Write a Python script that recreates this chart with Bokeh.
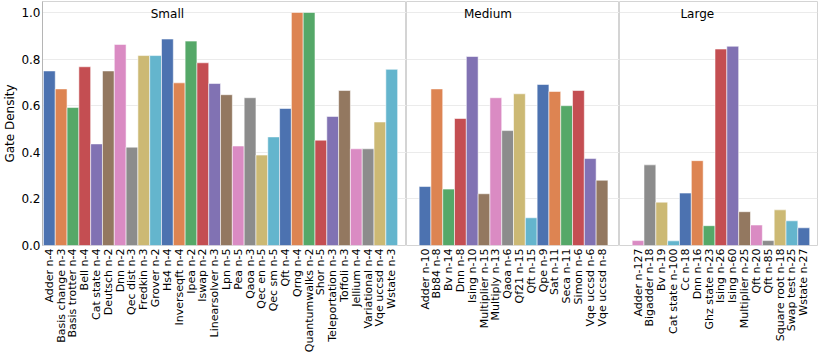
import math
from bokeh.plotting import figure
from bokeh.layouts import row
from bokeh.models import Range1d, FixedTicker, PrintfTickFormatter, ColumnDataSource
from bokeh.embed import file_html
from bokeh.resources import INLINE
from bokeh.core.properties import value

# ---------------- data ----------------
group_titles = ["Small", "Medium", "Large"]

small_labels = ["Adder n-4", "Basis change n-3", "Basis trotter n-4", "Bell n-4", "Cat state n-4",
                "Deutsch n-2", "Dnn n-2", "Qec dist n-3", "Fredkin n-3", "Grover n-2",
                "Hs4 n-4", "Inverseqft n-4", "Ipea n-2", "Iswap n-2", "Linearsolver n-3",
                "Lpn n-5", "Pea n-5", "Qaoa n-3", "Qec en n-5", "Qec sm n-5",
                "Qft n-4", "Qrng n-4", "Quantumwalks n-2", "Shor n-5", "Teleportation n-3",
                "Toffoli n-3", "Jellium n-4", "Variational n-4", "Vqe uccsd n-4", "Wstate n-3"]
small_values = [0.749, 0.672, 0.592, 0.767, 0.436,
                0.749, 0.863, 0.422, 0.815, 0.815,
                0.886, 0.698, 0.877, 0.784, 0.695,
                0.647, 0.427, 0.634, 0.388, 0.466,
                0.588, 1.000, 1.000, 0.452, 0.554,
                0.665, 0.415, 0.415, 0.530, 0.756]

medium_labels = ["Adder n-10", "Bb84 n-8", "Bv n-14", "Dnn n-8", "Ising n-10",
                 "Multiplier n-15", "Multiply n-13", "Qaoa n-6", "Qf21 n-15", "Qft n-15",
                 "Qpe n-9", "Sat n-11", "Seca n-11", "Simon n-6", "Vqe uccsd n-6", "Vqe uccsd n-8"]
medium_values = [0.253, 0.672, 0.242, 0.545, 0.811,
                 0.222, 0.634, 0.493, 0.651, 0.119,
                 0.691, 0.661, 0.600, 0.665, 0.373, 0.280]

large_labels = ["Adder n-127", "Bigadder n-18", "Bv n-19", "Cat state n-100", "Cc n-18",
                "Dnn n-16", "Ghz state n-23", "Ising n-26", "Ising n-60", "Multiplier n-25",
                "Qft n-20", "Qft n-85", "Square root n-18", "Swap test n-25", "Wstate n-27"]
large_values = [0.021, 0.346, 0.186, 0.020, 0.225,
                0.364, 0.085, 0.843, 0.855, 0.145,
                0.088, 0.021, 0.153, 0.106, 0.076]

y_ticks = [0.0, 0.2, 0.4, 0.6, 0.8, 1.0]

# ---------------- style ----------------
palette = ["#4C72B0", "#DD8452", "#55A868", "#C44E52", "#8172B3",
           "#937860", "#DA8BC3", "#8C8C8C", "#CCB974", "#64B5CD"]
FONT = "DejaVu Sans"
FS = "12px"
FS_X = "11px"

y_range = Range1d(0, 1.047)

def panel(labels, values, title, color_offset, x_start, x_end, frame_w, first=False, last=False):
    n = len(labels)
    xs = list(range(n))
    colors = [palette[(i + color_offset) % len(palette)] for i in xs]
    src = ColumnDataSource(dict(x=xs, top=values, color=colors))
    p = figure(frame_width=frame_w, frame_height=244,
               x_range=Range1d(x_start, x_end), y_range=y_range,
               output_backend="svg", toolbar_location=None,
               min_border_left=0, min_border_right=2 if last else 0,
               min_border_top=1, min_border_bottom=96,
               background_fill_color="white", border_fill_color="white")
    p.outline_line_color = "#d4d4d4"
    p.outline_line_width = 1
    p.xgrid.visible = False
    p.ygrid.ticker = FixedTicker(ticks=y_ticks)
    p.ygrid.grid_line_color = "#ebebeb"
    p.ygrid.grid_line_width = 1

    p.vbar(x="x", top="top", width=1.0, bottom=0, source=src,
           fill_color="color", line_color="white", line_alpha=0.55, line_width=1)

    p.text(x=[n / 3.0], y=[0.992], text=[title], text_font=value(FONT),
           text_font_size=FS, text_align="center", text_baseline="middle",
           text_color="black")

    xa = p.xaxis[0]
    xa.ticker = FixedTicker(ticks=xs)
    xa.major_label_overrides = {i: lab for i, lab in zip(xs, labels)}
    xa.major_label_orientation = math.pi / 2
    xa.major_label_text_font = FONT
    xa.major_label_text_font_size = FS_X
    xa.major_label_text_color = "black"
    xa.major_label_standoff = 3
    xa.major_tick_out = 0
    xa.major_tick_in = 0
    xa.minor_tick_out = 0
    xa.minor_tick_in = 0
    xa.axis_line_color = None

    ya = p.yaxis[0]
    if first:
        ya.ticker = FixedTicker(ticks=y_ticks)
        ya.formatter = PrintfTickFormatter(format="%.1f")
        ya.axis_label = "Gate Density"
        ya.axis_label_text_font = FONT
        ya.axis_label_text_font_size = FS
        ya.axis_label_text_font_style = "normal"
        ya.axis_label_text_color = "black"
        ya.axis_label_standoff = 1
        ya.major_label_text_font = FONT
        ya.major_label_text_font_size = FS
        ya.major_label_text_color = "black"
        ya.major_label_standoff = 2
        ya.major_tick_out = 0
        ya.major_tick_in = 0
        ya.minor_tick_out = 0
        ya.minor_tick_in = 0
        ya.axis_line_color = "#b5b5b5"
    else:
        ya.visible = False
    return p

p1 = panel(small_labels, small_values, group_titles[0], 0, -0.58, 30.25, 364, first=True)
p2 = panel(medium_labels, medium_values, group_titles[1], 0, -1.57, 16.48, 213)
p3 = panel(large_labels, large_values, group_titles[2], 6, -1.57, 15.16, 198, last=True)

p = row(p1, p2, p3, spacing=0)

open("out.html", "w").write(file_html(p, INLINE))
